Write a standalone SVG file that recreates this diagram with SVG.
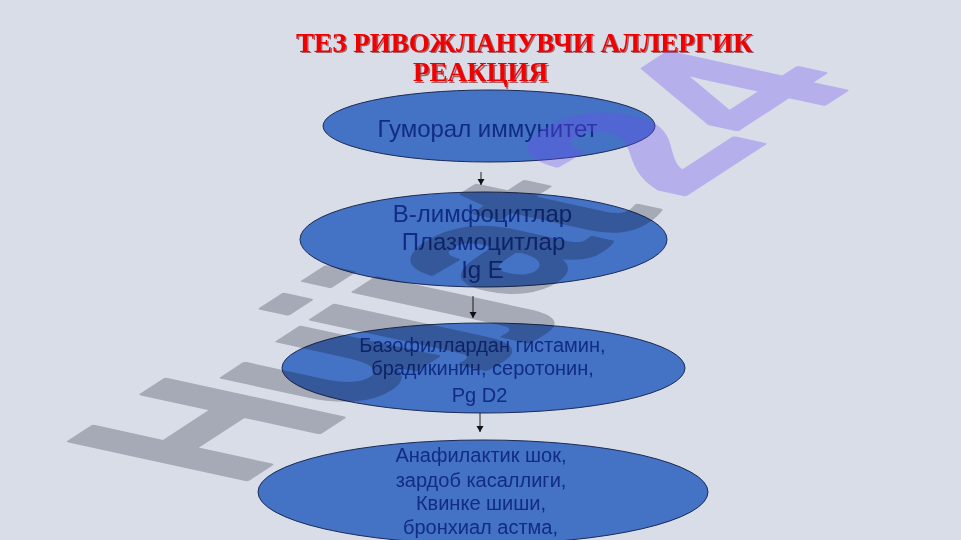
<svg xmlns="http://www.w3.org/2000/svg" width="961" height="540" viewBox="0 0 961 540">
<defs>
<style>
.node{fill:#4472c4;stroke:#1c2a55;stroke-width:1}
.lbl{font-family:"Liberation Sans",Arial,sans-serif;fill:#112c85;text-anchor:middle}
.big{font-size:24px}
.sm{font-size:20px}
.title{font-family:"Liberation Serif","Times New Roman",serif;font-weight:bold;font-size:27px}
.conn{stroke:#222;stroke-width:1;fill:none}
.wmtext{font-family:"Liberation Sans",Arial,sans-serif;font-weight:bold;font-size:100px;stroke-width:2;stroke-linejoin:round}
</style>
<marker id="ah" markerUnits="userSpaceOnUse" markerWidth="8" markerHeight="8" refX="6" refY="3.5" orient="auto">
<path d="M0,0 L6,3.5 L0,7 Z" fill="#111"/>
</marker>
</defs>
<rect width="961" height="540" fill="#d8dde8"/>
<g id="title">
<text class="title" x="297.5" y="53" fill="#7a0000" opacity="0.55">ТЕЗ РИВОЖЛАНУВЧИ АЛЛЕРГИК</text>
<text class="title" x="414.5" y="82.5" fill="#7a0000" opacity="0.55">РЕАКЦИЯ</text>
<text class="title" x="296" y="51.5" fill="#f00000">ТЕЗ РИВОЖЛАНУВЧИ АЛЛЕРГИК</text>
<text class="title" x="413" y="81" fill="#f00000">РЕАКЦИЯ</text>
</g>
<g id="connectors">
<line class="conn" x1="481" y1="172" x2="481" y2="185" marker-end="url(#ah)"/>
<line class="conn" x1="473" y1="296" x2="473" y2="318" marker-end="url(#ah)"/>
<line class="conn" x1="480" y1="411" x2="480" y2="432" marker-end="url(#ah)"/>
</g>
<g id="node1">
<ellipse class="node" cx="489" cy="126" rx="166" ry="36"/>
<text class="lbl big" x="487.5" y="137">Гуморал иммунитет</text>
</g>
<g id="node2">
<ellipse class="node" cx="483.5" cy="239.5" rx="183.5" ry="47.5"/>
<text class="lbl big" x="482.5" y="222">В-лимфоцитлар</text>
<text class="lbl big" x="483.5" y="250">Плазмоцитлар</text>
<text class="lbl big" x="482.5" y="278">Ig E</text>
</g>
<g id="node3">
<ellipse class="node" cx="483.5" cy="368" rx="201.5" ry="45"/>
<text class="lbl sm" x="482.5" y="352">Базофиллардан гистамин,</text>
<text class="lbl sm" x="482.5" y="375">брадикинин, серотонин,</text>
<text class="lbl sm" x="479.5" y="402">Pg D2</text>
</g>
<g id="node4">
<ellipse class="node" cx="483" cy="492" rx="225" ry="52"/>
<text class="lbl sm" x="481" y="462">Анафилактик шок,</text>
<text class="lbl sm" x="481" y="487">зардоб касаллиги,</text>
<text class="lbl sm" x="481" y="510">Квинке шиши,</text>
<text class="lbl sm" x="480.5" y="534">бронхиал астма,</text>
</g>
<g id="watermark" transform="matrix(1.63,-1.06,2.57,0.56,236,487)">
<g style="mix-blend-mode:multiply">
<text class="wmtext" x="0 69 123 149 175 229" y="0" fill="#c4c4c8" stroke="#c4c4c8">Hujjat</text>
</g>
<g opacity="0.32">
<text class="wmtext" x="272 328" y="0" fill="#6e50f4" stroke="#6e50f4">24</text>
</g>
</g>
</svg>
